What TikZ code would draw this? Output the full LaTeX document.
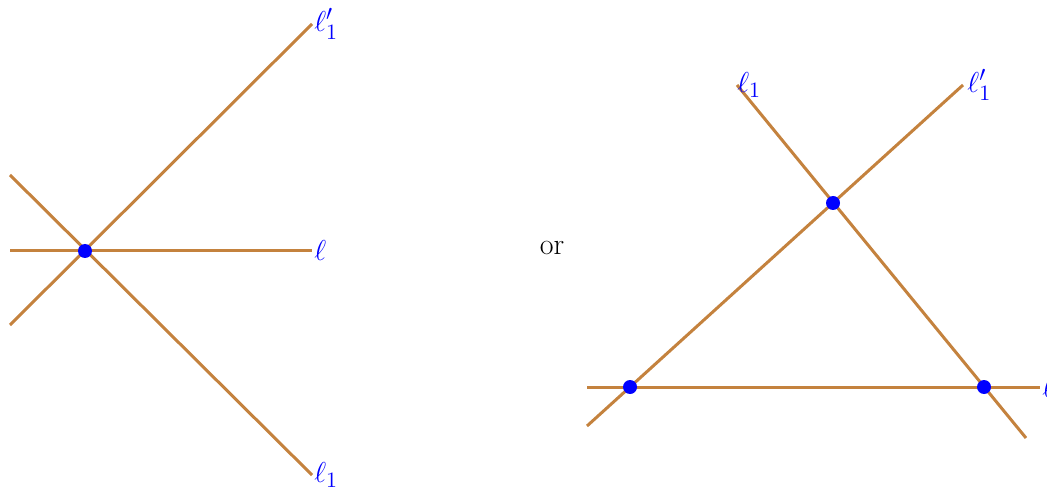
\documentclass[tikz,border=0pt]{standalone}
\usepackage{amsmath,amssymb}
\usepackage{tikz}
\usetikzlibrary{positioning,calc}
\definecolor{linebrown}{RGB}{196,130,62}
\definecolor{ptblue}{RGB}{0,0,255}
\tikzset{
  lineseg/.style={linebrown,line width=1.5pt},
  ptdot/.style={circle,fill=ptblue,inner sep=0pt,minimum size=7pt},
  lbl/.style={anchor=west,inner sep=1pt,text=ptblue}
}

\begin{document}
\begin{tikzpicture}[x=0.5pt,y=-0.5pt,font=\fontsize{15}{18}\selectfont]
\useasboundingbox (0,0) rectangle (1047,491);
% Left: three lines through one point
\coordinate (lA) at (10,175);
\coordinate (lB) at (10,251);
\coordinate (lC) at (10,325);
\coordinate (lEll1) at (312,475);
\coordinate (lEll) at (312,251);
\coordinate (lEllp) at (312,24);
\draw[lineseg] (lA)--(lEll1);
\draw[lineseg] (lB)--(lEll);
\draw[lineseg] (lC)--(lEllp);
\node[ptdot] (pO) at (85,251) {};
\node[lbl] (tEllp) at (lEllp) {$\ell_1'$};
\node[lbl] (tEll) at (lEll) {$\ell$};
\node[lbl] (tEll1) at (lEll1) {$\ell_1$};
% or
\node (or) at (552,248) {or};
% Right: triangle
\coordinate (rA) at (737,85);
\coordinate (rB) at (1026,438);
\coordinate (rC) at (587,426);
\coordinate (rD) at (963,85);
\coordinate (rE) at (587,387);
\coordinate (rF) at (1040,387);
\draw[lineseg] (rA)--(rB);
\draw[lineseg] (rC)--(rD);
\draw[lineseg] (rE)--(rF);
\node[ptdot] (pP) at (630,387) {};
\node[ptdot] (pQ) at (833,203) {};
\node[ptdot] (pR) at (984,387) {};
\node[lbl,inner sep=0pt] (tr1) at (rA) {$\ell_1$};
\node[lbl,inner sep=2pt] (tr2) at (rD) {$\ell_1'$};
\node[lbl] (tr3) at (rF) {$\ell$};
\end{tikzpicture}
\end{document}
